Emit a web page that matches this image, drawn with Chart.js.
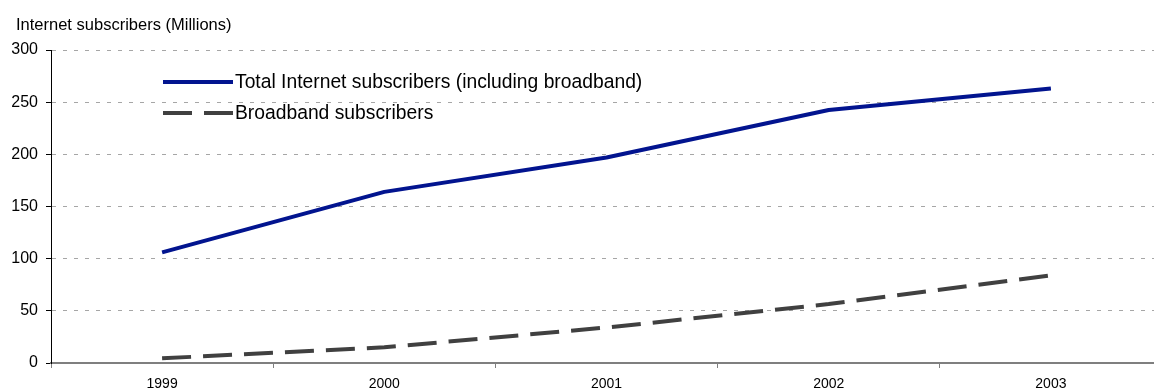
<!DOCTYPE html>
<html>
<head>
<meta charset="utf-8">
<script src="https://cdn.jsdelivr.net/npm/chart.js@4.4.1/dist/chart.umd.min.js"></script>
<style>
  html, body { margin: 0; padding: 0; background: #fff; overflow: hidden; }
  #wrap { width: 1170px; height: 389px; position: relative; }
</style>
</head>
<body>
<div id="wrap"><canvas id="lineChart"></canvas></div>
<script>
// data
const years = ['1999', '2000', '2001', '2002', '2003'];
const totalSubs = [106, 164, 197, 242.5, 263];
const broadbandSubs = [4.5, 15, 34, 56.5, 84];
const seriesNames = ['Total Internet subscribers (including broadband)', 'Broadband subscribers'];
const yTitle = 'Internet subscribers (Millions)';

const FONT = "'Liberation Sans', Arial, sans-serif";

// legend + title drawn inside the plot, like the original
const overlayPlugin = {
    id: 'overlay',
    afterDraw(chart) {
        const ctx = chart.ctx;
        ctx.save();
        ctx.fillStyle = '#000';
        ctx.font = '16.5px ' + FONT;
        ctx.textBaseline = 'alphabetic';
        ctx.fillText(yTitle, 16, 30);

        const rows = [82, 113];
        chart.data.datasets.forEach((ds, i) => {
            const y = rows[i];
            ctx.beginPath();
            ctx.strokeStyle = ds.borderColor;
            ctx.lineWidth = ds.borderWidth;
            ctx.setLineDash(ds.borderDash || []);
            ctx.moveTo(163, y);
            ctx.lineTo(233, y);
            ctx.stroke();
            ctx.setLineDash([]);
            ctx.font = '19.3px ' + FONT;
            ctx.textBaseline = 'middle';
            ctx.fillText(ds.label, 235, y + 1);
        });
        ctx.restore();
    }
};

new Chart(document.getElementById('lineChart'), {
    type: 'line',
    data: {
        labels: years,
        datasets: [{
            label: seriesNames[0],
            data: totalSubs,
            borderColor: '#02148f',
            borderWidth: 4,
            pointRadius: 0,
            tension: 0,
            borderJoinStyle: 'round',
            fill: false
        }, {
            label: seriesNames[1],
            data: broadbandSubs,
            borderColor: '#404040',
            borderWidth: 4,
            borderDash: [29, 12],
            pointRadius: 0,
            tension: 0,
            fill: false
        }]
    },
    options: {
        responsive: true,
        maintainAspectRatio: false,
        animation: false,
        events: [],
        layout: { padding: { top: 50, right: 8, left: 0, bottom: 0 } },
        plugins: {
            legend: { display: false },
            title: { display: false },
            tooltip: { enabled: false }
        },
        scales: {
            x: {
                type: 'category',
                offset: true,
                afterFit: (s) => { s.height = 26; },
                grid: {
                    offset: true,
                    drawOnChartArea: false,
                    drawTicks: true,
                    tickLength: 5,
                    tickColor: '#7f7f7f',
                    tickWidth: 1
                },
                border: { display: true, color: '#7f7f7f', width: 2 },
                ticks: {
                    color: '#000',
                    font: { family: FONT, size: 14 },
                    padding: 8,
                    maxRotation: 0,
                    autoSkip: false
                }
            },
            y: {
                min: 0,
                max: 300,
                afterFit: (s) => { s.width = 51; },
                grid: {
                    color: (c) => c.tick && c.tick.value === 0 ? 'rgba(0,0,0,0)' : '#a6a6a6',
                    lineWidth: 1,
                    drawTicks: true,
                    tickLength: 5,
                    tickColor: '#000',
                    tickBorderDash: [],
                    tickWidth: 1
                },
                border: { display: true, color: '#000', width: 1, dash: [4, 7] },
                ticks: {
                    stepSize: 50,
                    color: '#000',
                    font: { family: FONT, size: 16 },
                    padding: 8
                }
            }
        }
    },
    plugins: [overlayPlugin]
});
</script>
</body>
</html>
